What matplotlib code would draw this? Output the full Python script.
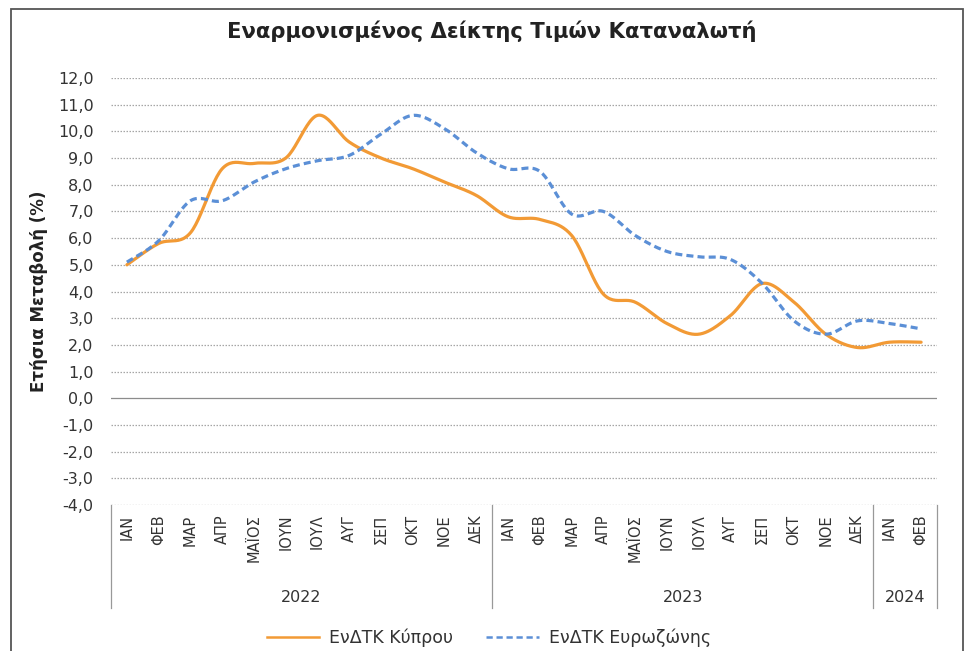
import numpy as np
import matplotlib
matplotlib.use('Agg')
import matplotlib.pyplot as plt
from matplotlib.patches import Rectangle
from matplotlib.lines import Line2D
from matplotlib.transforms import blended_transform_factory

months = ['ΙΑΝ', 'ΦΕΒ', 'ΜΑΡ', 'ΑΠΡ', 'ΜΑΪΟΣ', 'ΙΟΥΝ', 'ΙΟΥΛ', 'ΑΥΓ', 'ΣΕΠ', 'ΟΚΤ', 'ΝΟΕ', 'ΔΕΚ',
          'ΙΑΝ', 'ΦΕΒ', 'ΜΑΡ', 'ΑΠΡ', 'ΜΑΪΟΣ', 'ΙΟΥΝ', 'ΙΟΥΛ', 'ΑΥΓ', 'ΣΕΠ', 'ΟΚΤ', 'ΝΟΕ', 'ΔΕΚ',
          'ΙΑΝ', 'ΦΕΒ']
years = ['2022', '2023', '2024']
year_counts = [12, 12, 2]

cyprus = [5.0, 5.8, 6.2, 8.6, 8.8, 9.0, 10.6, 9.6, 9.0, 8.6, 8.1, 7.6,
          6.8, 6.7, 6.1, 3.9, 3.6, 2.8, 2.4, 3.1, 4.3, 3.6, 2.4, 1.9,
          2.1, 2.1]
eurozone = [5.1, 5.9, 7.4, 7.4, 8.1, 8.6, 8.9, 9.1, 9.9, 10.6, 10.1, 9.2,
            8.6, 8.5, 6.9, 7.0, 6.1, 5.5, 5.3, 5.2, 4.3, 2.9, 2.4, 2.9,
            2.8, 2.6]

ORANGE = '#F29A35'
BLUE = '#5B8FD6'


def smooth(y, n=24):
    # Excel-like smoothed line: Bezier segments with Catmull-Rom control points
    y = np.asarray(y, dtype=float)
    x = np.arange(len(y), dtype=float)
    pts = np.column_stack([x, y])
    ext = np.vstack([pts[0], pts, pts[-1]])
    out = []
    t = np.linspace(0, 1, n, endpoint=False)[:, None]
    for i in range(len(pts) - 1):
        p0, p1, p2, p3 = ext[i], ext[i + 1], ext[i + 2], ext[i + 3]
        c1 = p1 + (p2 - p0) / 6
        c2 = p2 - (p3 - p1) / 6
        seg = ((1 - t) ** 3) * p1 + 3 * ((1 - t) ** 2) * t * c1 + 3 * (1 - t) * t ** 2 * c2 + t ** 3 * p2
        out.append(seg)
    out.append(pts[-1][None, :])
    out = np.vstack(out)
    return out[:, 0], out[:, 1]


fig = plt.figure(figsize=(9.75, 6.51), dpi=100)
ax = fig.add_axes([111 / 975, 1 - 505 / 651, 826 / 975, 427 / 651])

# outer chart border
fig.patches.append(Rectangle((11 / 975, -0.05), 952 / 975, 1.05 - 9 / 651, transform=fig.transFigure,
                             fill=False, edgecolor='#555555', linewidth=1.3))

n = len(months)
ax.set_xlim(-0.5, n - 0.5)
ax.set_ylim(-4, 12)
ax.set_yticks(np.arange(-4, 13, 1))
ax.set_yticklabels([('%.1f' % v).replace('.', ',') for v in np.arange(-4, 13, 1)],
                   fontsize=11.5, color='#333333')
for v in np.arange(-4, 13, 1):
    if v == 0:
        ax.axhline(v, color='#8c8c8c', lw=0.9, zorder=1)
    else:
        ax.axhline(v, color='#a6a6a6', lw=0.9, ls=(0, (1.2, 1.2)), zorder=1)

for s in ax.spines.values():
    s.set_visible(False)
ax.tick_params(axis='y', length=0, pad=12.5)
ax.tick_params(axis='x', length=0, pad=7)
ax.set_xticks(np.arange(n))
ax.set_xticklabels(months, rotation=90, fontsize=10.5, color='#333333', va='top')

xs, ys = smooth(cyprus)
ax.plot(xs, ys, color=ORANGE, lw=2.3, solid_capstyle='round', zorder=3)
xs, ys = smooth(eurozone)
ax.plot(xs, ys, color=BLUE, lw=2.3, ls=(0, (2.2, 1.3)), zorder=4)

# multi-level category axis
trans = blended_transform_factory(ax.transData, ax.transAxes)
edges = np.concatenate([[0], np.cumsum(year_counts)]) - 0.5
for e in edges:
    ax.plot([e, e], [0, -103 / 427], transform=trans, color='#999999', lw=0.9, clip_on=False)
for i, yr in enumerate(years):
    ax.text((edges[i] + edges[i + 1]) / 2, -93 / 427, yr, transform=trans, ha='center', va='center',
            fontsize=11.5, color='#333333')

ax.set_ylabel('Ετήσια Μεταβολή (%)', fontsize=12, fontweight='bold', color='#222222', labelpad=7)
fig.text(492 / 975, 1 - 31 / 651, 'Εναρμονισμένος Δείκτης Τιμών Καταναλωτή', ha='center', va='center',
         fontsize=15.2, fontweight='bold', color='#222222')

handles = [Line2D([], [], color=ORANGE, lw=1.8),
           Line2D([], [], color=BLUE, lw=1.8, ls=(0, (2.5, 1.5)))]
leg = fig.legend(handles, ['ΕνΔΤΚ Κύπρου', 'ΕνΔΤΚ Ευρωζώνης'], loc='center',
                 bbox_to_anchor=(489 / 975, 1 - 638 / 651), ncol=2, frameon=False,
                 fontsize=12.5, handlelength=3.0, columnspacing=1.9, handletextpad=0.6)
for t in leg.get_texts():
    t.set_color('#333333')

fig.savefig('out.png', dpi=100)
